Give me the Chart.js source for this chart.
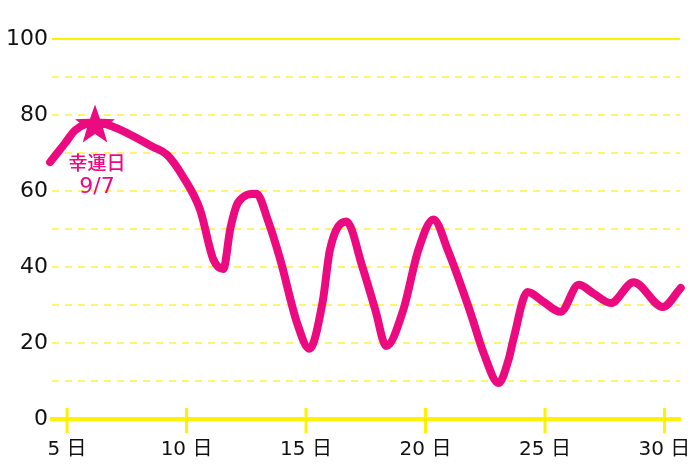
<!DOCTYPE html>
<html>
<head>
<meta charset="utf-8">
<script src="https://cdn.jsdelivr.net/npm/chart.js@4"></script>
<style>
    html, body { margin: 0; padding: 0; background: #fff; }
    #wrap { width: 700px; height: 467px; position: relative; }
</style>
</head>
<body>
<div id="wrap"><canvas id="fortuneChart"></canvas></div>
<script>
// days (x) and score (y)
const days   = [4.29, 4.92, 5.34, 6.17, 6.9, 8.6, 9.19, 9.86, 10.57, 11.12, 11.54, 11.83, 12.16, 12.92, 13.42, 13.92, 14.64, 15.14, 15.7, 16.0, 16.69, 17.36, 17.9, 18.36, 19.07, 19.7, 20.33, 20.96, 21.88, 22.43, 23.06, 23.47, 23.68, 24.27, 24.9, 25.65, 26.41, 27.04, 27.75, 28.71, 29.93, 30.68];
const scores = [67.6, 72.6, 76, 78, 77, 71.6, 69.5, 63.7, 55, 42, 39.5, 50, 57, 59.3, 52, 42, 25, 18.5, 31, 44.5, 52, 40, 28.7, 19.2, 28.7, 44.5, 52.5, 44, 28, 17.4, 9.5, 15.5, 21, 33.4, 31, 28.2, 35.3, 33, 30.5, 36, 29.5, 34.5];

const xTicks = [5, 10, 15, 20, 25, 30];
const yLabels = [0, 20, 40, 60, 80, 100];

// lucky day marker
const luckyDay = [6.17];
const luckyScore = [77.6];
const luckyText = ['幸運日', '9/7'];

const PINK = '#ec0a80';
const YELLOW = '#fff200';
const FONT = '"DejaVu Sans", "Noto Sans CJK JP"';

const extraDraw = {
    id: 'extraDraw',
    afterDatasetsDraw(chart) {
        const ctx = chart.ctx;
        const x = chart.scales.x, y = chart.scales.y;
        const bottom = chart.chartArea.bottom;

        // tick marks crossing the x axis
        ctx.save();
        ctx.strokeStyle = YELLOW;
        ctx.lineWidth = 3;
        xTicks.forEach(t => {
            const px = x.getPixelForValue(t);
            ctx.beginPath();
            ctx.moveTo(px, bottom - 11);
            ctx.lineTo(px, bottom + 14);
            ctx.stroke();
        });

        // star + label
        luckyDay.forEach((d, i) => {
            const cx = x.getPixelForValue(d);
            const cy = y.getPixelForValue(luckyScore[i]);
            const outer = 21, inner = 8.5;
            ctx.beginPath();
            for (let k = 0; k < 10; k++) {
                const r = k % 2 === 0 ? outer : inner;
                const a = -Math.PI / 2 + k * Math.PI / 5;
                const px = cx + r * Math.cos(a);
                const py = cy + 1.5 + r * Math.sin(a);
                if (k === 0) ctx.moveTo(px, py); else ctx.lineTo(px, py);
            }
            ctx.closePath();
            ctx.fillStyle = PINK;
            ctx.fill();

            ctx.fillStyle = PINK;
            ctx.textAlign = 'center';
            ctx.textBaseline = 'middle';
            ctx.font = '500 19px "Noto Sans CJK JP"';
            ctx.fillText(luckyText[0], cx + 2, cy + 39);
            ctx.font = '22px "DejaVu Sans"';
            ctx.fillText(luckyText[1], cx + 2, cy + 63);
        });
        ctx.restore();
    }
};

new Chart(document.getElementById('fortuneChart'), {
    type: 'line',
    data: {
        datasets: [{
            data: days.map((d, i) => ({ x: d, y: scores[i] })),
            borderColor: PINK,
            borderWidth: 8,
            borderCapStyle: 'round',
            borderJoinStyle: 'round',
            pointRadius: 0,
            tension: 0.4,
            cubicInterpolationMode: 'monotone',
            fill: false,
            clip: false
        }]
    },
    options: {
        responsive: true,
        maintainAspectRatio: false,
        animation: false,
        layout: { padding: { top: 39, right: 20, bottom: 0, left: 0 } },
        plugins: {
            legend: { display: false },
            tooltip: { enabled: false }
        },
        scales: {
            x: {
                type: 'linear',
                min: 4.37,
                max: 30.65,
                afterBuildTicks: (scale) => {
                    scale.ticks = xTicks.map(v => ({ value: v }));
                },
                afterFit: (scale) => {
                    scale.height = 48;
                    scale.paddingLeft = 0;
                    scale.paddingRight = 0;
                },
                grid: { display: false, drawTicks: false },
                border: { display: true, color: YELLOW, width: 4 },
                ticks: {
                    padding: 19,
                    color: '#111',
                    font: { family: FONT, size: 20 },
                    callback: (v) => v + ' 日'
                }
            },
            y: {
                min: 0,
                max: 100,
                afterFit: (scale) => { scale.width = 52; },
                ticks: {
                    stepSize: 10,
                    padding: 4,
                    color: '#111',
                    font: { family: FONT, size: 22 },
                    callback: (v) => yLabels.includes(v) ? v : ''
                },
                grid: {
                    drawTicks: false,
                    lineWidth: 2,
                    color: (c) => c.tick.value === 0 ? 'rgba(0,0,0,0)' : (c.tick.value === 100 ? YELLOW : '#fff46e')
                },
                border: {
                    display: false,
                    dash: (c) => (c.tick && c.tick.value === 100) ? [] : [7, 6]
                }
            }
        }
    },
    plugins: [extraDraw]
});
</script>
</body>
</html>
